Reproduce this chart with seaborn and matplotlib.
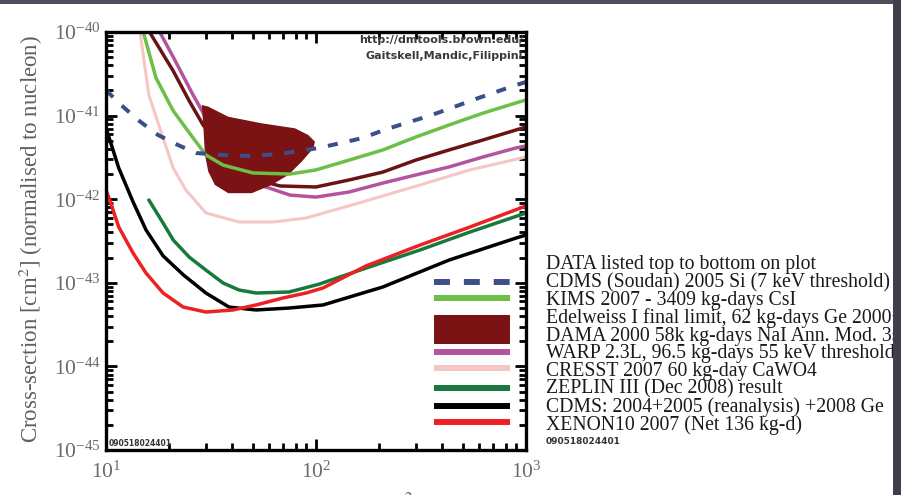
import numpy as np
import matplotlib
matplotlib.use("Agg")
import matplotlib.pyplot as plt
from matplotlib.patches import Rectangle
from matplotlib.ticker import LogLocator, NullFormatter
import seaborn as sns

sns.set_theme(style="ticks")
plt.rcParams["font.family"] = ["Liberation Serif", "DejaVu Serif"]
plt.rcParams["mathtext.fontset"] = "stix"

# ---- WIMP mass [GeV/c^2] and spin-independent cross-section [cm^2] ----
cdms_si_mass = [10, 11.5, 14.2, 17.7, 22.0, 26.8, 36.0, 48.0, 67.0, 103, 131.5,
                167, 211, 268, 345, 440, 559, 720, 896, 1000]
cdms_si_xs = [2.02e-41, 1.42e-41, 8.86e-42, 5.86e-42, 4.45e-42, 3.57e-42, 3.38e-42,
              3.29e-42, 3.47e-42, 4.10e-42, 4.70e-42, 5.40e-42, 6.73e-42, 8.15e-42,
              9.9e-42, 1.23e-41, 1.54e-41, 1.92e-41, 2.32e-41, 2.52e-41]

kims_mass = [14.2, 15.0, 17.3, 20.9, 26.0, 29.9, 36.1, 50.1, 75, 100, 144, 208,
             299, 430, 624, 926, 1000]
kims_xs = [1.6e-40, 1.03e-40, 2.82e-41, 1.14e-41, 5.40e-42, 3.38e-42, 2.56e-42,
           2.06e-42, 2.00e-42, 2.24e-42, 2.94e-42, 3.88e-42, 5.55e-42, 7.72e-42,
           1.07e-41, 1.455e-41, 1.54e-41]

edelweiss_mass = [14.4, 16.0, 20.9, 24.9, 29.0, 39.0, 48.5, 67.4, 100, 144, 208,
                  299, 430, 624, 896, 1000]
edelweiss_xs = [1.6e-40, 1.03e-40, 3.42e-41, 1.50e-41, 7.72e-42, 2.94e-42, 1.79e-42,
                1.44e-42, 1.40e-42, 1.70e-42, 2.11e-42, 2.94e-42, 3.88e-42, 5.11e-42,
                6.73e-42, 7.30e-42]

dama_mass = [28.6, 29.1, 29.6, 30.7, 33.0, 38.2, 49.4, 61.5, 73.8, 85.5, 97.1,
             98.9, 91.9, 79.4, 55.1, 38.2, 30.7]
dama_xs = [1.34e-41, 7.05e-42, 3.38e-42, 2.13e-42, 1.48e-42, 1.18e-42, 1.18e-42,
           1.48e-42, 1.95e-42, 2.81e-42, 4.06e-42, 4.87e-42, 5.86e-42, 7.05e-42,
           8.09e-42, 9.70e-42, 1.28e-41]

warp_mass = [16.3, 17.9, 20.9, 26.0, 31.3, 41.1, 54.1, 75.2, 100, 144, 208, 299,
             430, 624, 896, 1000]
warp_xs = [1.6e-40, 1.03e-40, 5.02e-41, 1.76e-41, 7.72e-42, 2.94e-42, 1.48e-42,
           1.12e-42, 1.06e-42, 1.22e-42, 1.56e-42, 1.95e-42, 2.43e-42, 3.20e-42,
           4.10e-42, 4.33e-42]

cresst_mass = [14.0, 14.5, 16.0, 18.7, 20.9, 24.0, 29.9, 43.0, 62.4, 89.6, 160,
               313, 541, 1000]
cresst_xs = [1.6e-40, 1.03e-40, 1.76e-41, 5.40e-42, 2.36e-42, 1.29e-42, 6.84e-43,
             5.34e-43, 5.34e-43, 5.96e-43, 9.01e-43, 1.48e-42, 2.24e-42, 3.20e-42]

zeplin_mass = [16.0, 18.7, 20.9, 24.9, 29.9, 36.1, 43.0, 51.8, 74.4, 103, 173,
               313, 541, 1000]
zeplin_xs = [9.78e-43, 5.19e-43, 3.25e-43, 2.03e-43, 1.42e-43, 9.95e-44, 8.20e-44,
             7.55e-44, 7.76e-44, 9.6e-44, 1.50e-43, 2.47e-43, 4.05e-43, 6.84e-43]

cdms_ge_mass = [10, 11.5, 13.45, 15.5, 18.7, 23.3, 29.9, 38.5, 51.8, 74.4, 108,
                208, 430, 896, 1000]
cdms_ge_xs = [7.11e-42, 2.36e-42, 9.3e-43, 4.3e-43, 2.1e-43, 1.25e-43, 7.55e-44,
              5.13e-44, 4.73e-44, 4.99e-44, 5.43e-44, 8.91e-44, 1.87e-43, 3.43e-43,
              3.73e-43]

xenon_mass = [10, 10.3, 11.5, 13.45, 15.5, 18.7, 23.3, 29.9, 40.2, 51.8, 69.6,
              89.6, 108, 173, 313, 541, 1000]
xenon_xs = [1.29e-42, 1.06e-42, 4.65e-43, 2.27e-43, 1.31e-43, 7.55e-44, 5.13e-44,
            4.47e-44, 4.73e-44, 5.43e-44, 6.58e-44, 7.55e-44, 8.67e-44, 1.59e-43,
            2.83e-43, 4.65e-43, 8.3e-43]

legend_labels = [
    "DATA listed top to bottom on plot",
    "CDMS (Soudan) 2005 Si (7 keV threshold)",
    "KIMS 2007 - 3409 kg-days CsI",
    "Edelweiss I final limit, 62 kg-days Ge 2000+2002+2003 limit",
    "DAMA 2000 58k kg-days NaI Ann. Mod. 3sigma,w/DAMA 1996 limit",
    "WARP 2.3L, 96.5 kg-days 55 keV threshold",
    "CRESST 2007 60 kg-day CaWO4",
    "ZEPLIN III (Dec 2008) result",
    "CDMS: 2004+2005 (reanalysis) +2008 Ge",
    "XENON10 2007 (Net 136 kg-d)",
]
plot_id = "090518024401"

# ---- colours ----
C_SI = "#3d4f8a"
C_KIMS = "#6cbf47"
C_EDW = "#6a1315"
C_DAMA = "#7b1315"
C_WARP = "#b4549e"
C_CRESST = "#f6c6c6"
C_ZEP = "#177a3c"
C_GE = "#000000"
C_XE = "#ed2024"

fig = plt.figure(figsize=(9.01, 4.95), dpi=100)
fig.patch.set_facecolor("white")
ax = fig.add_axes([106 / 901, 45 / 495, 420 / 901, 418 / 495])
ax.set_facecolor("white")
ax.set_xscale("log")
ax.set_yscale("log")

curves = [
    (cresst_mass, cresst_xs, C_CRESST, 2.2, "-", 2.0),
    (edelweiss_mass, edelweiss_xs, C_EDW, 2.5, "-", 2.1),
    (warp_mass, warp_xs, C_WARP, 2.5, "-", 2.2),
    (kims_mass, kims_xs, C_KIMS, 2.5, "-", 3.0),
    (zeplin_mass, zeplin_xs, C_ZEP, 2.5, "-", 3.0),
    (cdms_ge_mass, cdms_ge_xs, C_GE, 2.5, "-", 3.1),
    (xenon_mass, xenon_xs, C_XE, 2.5, "-", 3.2),
    (cdms_si_mass, cdms_si_xs, C_SI, 2.9, (0, (2.5, 3.0)), 3.5),
]
for m, xs, col, lw, ls, z in curves:
    sns.lineplot(x=m, y=xs, ax=ax, color=col, lw=lw, linestyle=ls,
                 sort=False, estimator=None, legend=False, zorder=z)

# DAMA annual-modulation region
ax.fill(dama_mass, dama_xs, color=C_DAMA, lw=0, zorder=2.5)

ax.set_xlim(10, 1000)
ax.set_ylim(1e-45, 1e-40)
ax.set_xlabel("")

for axis in (ax.xaxis, ax.yaxis):
    axis.set_major_locator(LogLocator(base=10, numticks=20))
    axis.set_minor_locator(LogLocator(base=10, subs=np.arange(2, 10), numticks=100))
    axis.set_minor_formatter(NullFormatter())

for s in ax.spines.values():
    s.set_linewidth(2.4)
    s.set_color("black")
    s.set_zorder(6)

ax.tick_params(which="both", direction="in", top=True, right=True,
               width=2.0, color="black")
ax.tick_params(which="major", length=8, labelsize=15.5, labelcolor="#6a6a6a")
ax.tick_params(which="minor", length=5)
ax.tick_params(axis="x", which="major", pad=8.5)
ax.tick_params(axis="y", which="major", pad=4)

ax.set_ylabel("Cross-section [cm$^2$] (normalised to nucleon)", fontsize=16.5,
              color="#606060")
ax.yaxis.set_label_coords(-0.145, 0.505)

fig.text(325 / 901, 1 - 491 / 495, "WIMP Mass [GeV/c$^2$]", ha="center", va="top",
         fontsize=15, color="#606060")

# credits inside the frame
ax.text(0.993, 0.981, "http://dmtools.brown.edu/", transform=ax.transAxes,
        ha="right", va="center", fontsize=8, fontweight="bold",
        family="DejaVu Sans", color="#3a3a3a", zorder=7)
ax.text(0.993, 0.943, "Gaitskell,Mandic,Filippini", transform=ax.transAxes,
        ha="right", va="center", fontsize=8, fontweight="bold",
        family="DejaVu Sans", color="#3a3a3a", zorder=7)
ax.text(0.006, 0.015, plot_id, transform=ax.transAxes, ha="left", va="center",
        fontsize=5.5, fontweight="bold", family="DejaVu Sans", color="#333333",
        zorder=7)

# legend swatches, stacked inside the frame
sx0, sx1 = 0.781, 0.962
swatch_kw = dict(transform=ax.transAxes, lw=4.3, solid_capstyle="butt",
                 dash_capstyle="butt", zorder=7)
ax.plot([sx0, sx1], [0.4019, 0.4019], color=C_SI, linestyle=(0, (2.67, 2.33)),
        **swatch_kw)
ax.plot([sx0, sx1], [0.3636, 0.3636], color=C_KIMS, **swatch_kw)
ax.add_patch(Rectangle((sx0, 0.2536), sx1 - sx0, 0.0694, transform=ax.transAxes,
                       color=C_DAMA, lw=0, zorder=7))
ax.plot([sx0, sx1], [0.2344, 0.2344], color=C_WARP, **swatch_kw)
ax.plot([sx0, sx1], [0.1962, 0.1962], color=C_CRESST, **swatch_kw)
ax.plot([sx0, sx1], [0.1483, 0.1483], color=C_ZEP, **swatch_kw)
ax.plot([sx0, sx1], [0.1053, 0.1053], color=C_GE, **swatch_kw)
ax.plot([sx0, sx1], [0.0670, 0.0670], color=C_XE, **swatch_kw)

# legend text to the right of the frame
for i, lab in enumerate(legend_labels):
    yc = 265 + 17.75 * i
    fig.text(546 / 901, 1 - yc / 495, lab, ha="left", va="center",
             fontsize=14.2, color="#1a1a1a")
fig.text(546 / 901, 1 - 441 / 495, plot_id, ha="left", va="center",
         fontsize=6.5, fontweight="bold", family="DejaVu Sans", color="#333333")

# dark surround at the top and right edges
fig.add_artist(Rectangle((0, 1 - 4 / 495), 1, 4 / 495, transform=fig.transFigure,
                         color="#4b4d5b", lw=0, zorder=20))
fig.add_artist(Rectangle((893 / 901, 0), 8 / 901, 1, transform=fig.transFigure,
                         color="#3e404e", lw=0, zorder=20))

fig.savefig("out.png", dpi=100)
